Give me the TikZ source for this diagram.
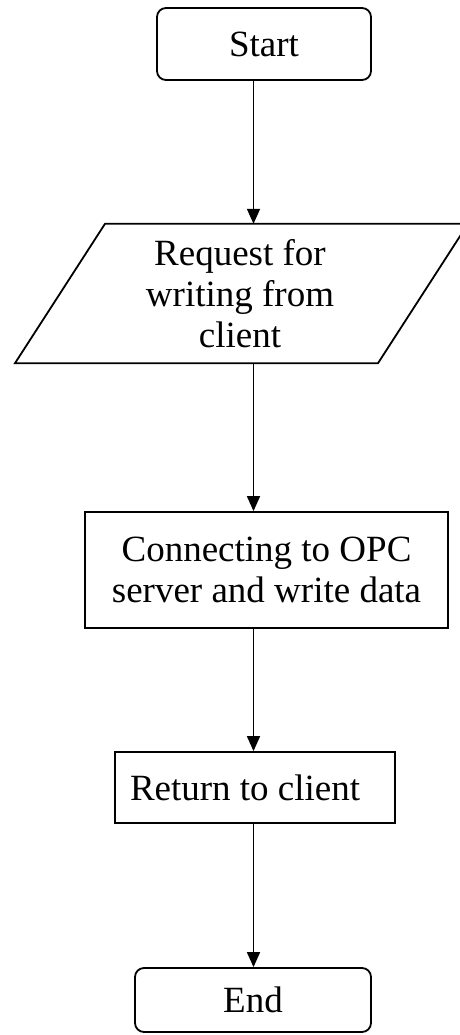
\documentclass[tikz,border=0pt]{standalone}
\usepackage{fontspec}
\setmainfont{Liberation Serif}
\usetikzlibrary{arrows.meta}
\begin{document}
\begin{tikzpicture}[x=1pt,y=-1pt,
  lbl/.style={font=\fontsize{37}{41}\selectfont, align=center, inner sep=0pt},
  frame/.style={draw=black, line width=1.8pt},
  roundframe/.style={frame, rounded corners=9pt},
  arr/.style={draw=black, line width=1.7pt, -{Triangle[length=15pt,width=13pt]}}]
\useasboundingbox (0,0) rectangle (460,1035);
\coordinate (ax) at (253.5,0);
\node[lbl, roundframe, minimum width=214pt, minimum height=72pt] (start) at (264,44) {Start};
\node[lbl, minimum width=300pt, minimum height=139pt] (req) at (240,293.5) {Request for\\writing from\\client};
\draw[frame] ([xshift=-135pt]req.north) -- ([xshift=228pt]req.north) -- ([xshift=138pt]req.south) -- ([xshift=-225pt]req.south) -- cycle;
\node[lbl, frame, minimum width=363pt, minimum height=116pt] (conn) at (266.5,570) {Connecting to OPC\\server and write data};
\node[lbl, frame, minimum width=280pt, minimum height=71pt] (ret) at (255,787.5) {\makebox[280pt][l]{\hspace{15pt}Return to client}};
\node[lbl, roundframe, minimum width=236pt, minimum height=64pt] (end) at (253,1000) {End};
\draw[arr] (start.south -| ax) -- (req.north -| ax);
\draw[arr] (req.south -| ax) -- (conn.north -| ax);
\draw[arr] (conn.south -| ax) -- (ret.north -| ax);
\draw[arr] (ret.south -| ax) -- (end.north -| ax);
\end{tikzpicture}
\end{document}
